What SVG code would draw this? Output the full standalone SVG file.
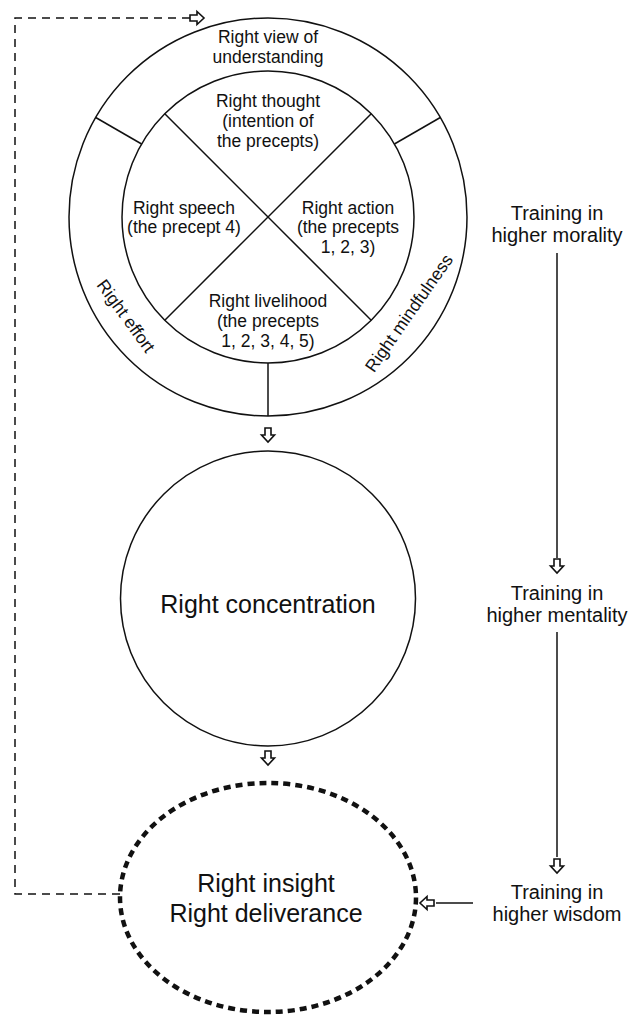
<svg xmlns="http://www.w3.org/2000/svg" width="629" height="1016" viewBox="0 0 629 1016">
<style>
.ln{fill:none;stroke:#111;stroke-width:1.5}
.t{font-family:"Liberation Sans",Arial,Helvetica,sans-serif;fill:#111;text-anchor:middle}
.s{font-size:17.5px}
.m{font-size:20px}
.b{font-size:25px}
.arr{fill:#fff;stroke:#111;stroke-width:1.6;stroke-linejoin:miter}
</style>
<defs>
<path id="ad" d="M-3,-14 H3 V-7 H6.5 L0,0 L-6.5,-7 H-3 Z"/>
</defs>
<rect width="629" height="1016" fill="#fff"/>

<g id="wheel">
<circle class="ln" cx="268" cy="217" r="199"/>
<circle class="ln" cx="268" cy="217" r="146"/>
<line class="ln" x1="164.8" y1="113.8" x2="371.2" y2="320.2"/>
<line class="ln" x1="371.2" y1="113.8" x2="164.8" y2="320.2"/>
<line class="ln" x1="141.6" y1="144" x2="95.7" y2="117.5"/>
<line class="ln" x1="394.4" y1="144" x2="440.3" y2="117.5"/>
<line class="ln" x1="268" y1="363" x2="268" y2="416"/>
</g>

<g id="right-view">
<text class="t s" x="268" y="43">Right view of</text>
<text class="t s" x="268" y="63">understanding</text>
</g>
<g id="right-thought">
<text class="t s" x="268" y="107">Right thought</text>
<text class="t s" x="268" y="127">(intention of</text>
<text class="t s" x="268" y="147">the precepts)</text>
</g>
<g id="right-speech">
<text class="t s" x="184" y="214">Right speech</text>
<text class="t s" x="184" y="233">(the precept 4)</text>
</g>
<g id="right-action">
<text class="t s" x="348" y="214">Right action</text>
<text class="t s" x="348" y="233">(the precepts</text>
<text class="t s" x="348" y="253">1, 2, 3)</text>
</g>
<g id="right-livelihood">
<text class="t s" x="268" y="307">Right livelihood</text>
<text class="t s" x="268" y="327">(the precepts</text>
<text class="t s" x="268" y="347">1, 2, 3, 4, 5)</text>
</g>
<g id="right-effort">
<text class="t s" transform="translate(126,316) rotate(54)" x="0" y="6">Right effort</text>
</g>
<g id="right-mindfulness">
<text class="t s" transform="translate(409,313) rotate(-55)" x="0" y="6">Right mindfulness</text>
</g>

<g id="right-concentration">
<circle class="ln" cx="268" cy="598.5" r="147.5"/>
<text class="t b" x="268" y="613">Right concentration</text>
</g>

<g id="right-insight">
<ellipse cx="268" cy="897.5" rx="148" ry="114.5" fill="none" stroke="#111" stroke-width="4.5" stroke-dasharray="7 5"/>
<text class="t b" x="266" y="892">Right insight</text>
<text class="t b" x="266" y="922">Right deliverance</text>
</g>

<g id="training-morality">
<text class="t m" x="557" y="220">Training in</text>
<text class="t m" x="557" y="242">higher morality</text>
</g>
<g id="training-mentality">
<text class="t m" x="557" y="600">Training in</text>
<text class="t m" x="557" y="622">higher mentality</text>
</g>
<g id="training-wisdom">
<text class="t m" x="557" y="899">Training in</text>
<text class="t m" x="557" y="921">higher wisdom</text>
</g>

<g id="connectors">
<path d="M120,894 H15 V18 H190" fill="none" stroke="#111" stroke-width="1.5" stroke-dasharray="8 6"/>
<use href="#ad" class="arr" transform="translate(204,18) rotate(-90)"/>
<use href="#ad" class="arr" transform="translate(268,442)"/>
<use href="#ad" class="arr" transform="translate(268,765)"/>
<line class="ln" x1="557" y1="253" x2="557" y2="558"/>
<use href="#ad" class="arr" transform="translate(557,573)"/>
<line class="ln" x1="557" y1="632" x2="557" y2="857"/>
<use href="#ad" class="arr" transform="translate(557,873)"/>
<line class="ln" x1="473" y1="903" x2="436" y2="903"/>
<use href="#ad" class="arr" transform="translate(420,903) rotate(90)"/>
</g>
</svg>
